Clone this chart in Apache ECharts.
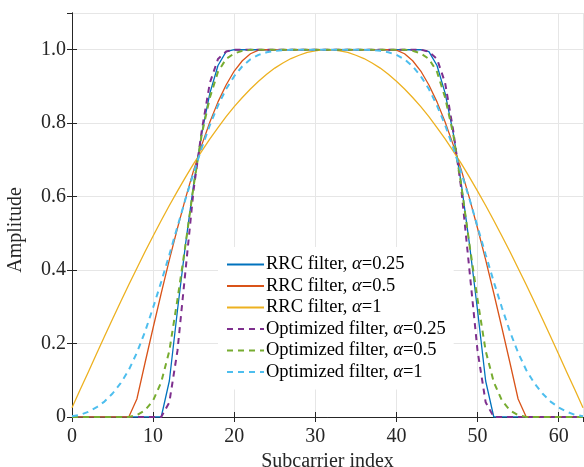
<!DOCTYPE html>
<html>
<head>
<meta charset="utf-8">
<script src="https://cdn.jsdelivr.net/npm/echarts@6/dist/echarts.min.js"></script>
<style>
  html, body { margin: 0; padding: 0; background: #fff; }
  #chart { width: 584px; height: 467px; }
</style>
</head>
<body>
<div id="chart"></div>
<script>
// subcarrier index 0..63
const subcarriers = Array.from({ length: 64 }, (_, i) => i);
const xTicks = [0, 10, 20, 30, 40, 50, 60];
const yTicks = [0, 0.2, 0.4, 0.6, 0.8, 1.0];

const rrc025 = [
  0, 0, 0, 0, 0, 0, 0, 0, 0, 0, 0, 0,
  0.098, 0.290, 0.471, 0.634, 0.773, 0.882, 0.957, 0.995,
  1, 1, 1, 1, 1, 1, 1, 1, 1, 1, 1, 1, 1, 1, 1, 1, 1, 1, 1, 1, 1, 1, 1, 1,
  0.995, 0.957, 0.882, 0.773, 0.634, 0.471, 0.290, 0.098,
  0, 0, 0, 0, 0, 0, 0, 0, 0, 0, 0, 0
];
const rrc05 = [
  0, 0, 0, 0, 0, 0, 0, 0,
  0.049, 0.147, 0.243, 0.337, 0.428, 0.514, 0.596, 0.672,
  0.741, 0.803, 0.858, 0.904, 0.942, 0.970, 0.989, 0.999,
  1, 1, 1, 1, 1, 1, 1, 1, 1, 1, 1, 1, 1, 1, 1, 1,
  0.999, 0.989, 0.970, 0.942, 0.904, 0.858, 0.803, 0.741,
  0.672, 0.596, 0.514, 0.428, 0.337, 0.243, 0.147, 0.049,
  0, 0, 0, 0, 0, 0, 0, 0
];
const rrc1 = [
  0.025, 0.074, 0.122, 0.171, 0.219, 0.267, 0.314, 0.360,
  0.405, 0.450, 0.493, 0.535, 0.576, 0.615, 0.653, 0.690,
  0.724, 0.757, 0.788, 0.818, 0.845, 0.870, 0.893, 0.914,
  0.933, 0.950, 0.964, 0.976, 0.985, 0.993, 0.997, 1.000,
  1.000, 0.997, 0.993, 0.985, 0.976, 0.964, 0.950, 0.933,
  0.914, 0.893, 0.870, 0.845, 0.818, 0.788, 0.757, 0.724,
  0.690, 0.653, 0.615, 0.576, 0.535, 0.493, 0.450, 0.405,
  0.360, 0.314, 0.267, 0.219, 0.171, 0.122, 0.074, 0.025
];
const opt025 = [
  0, 0, 0, 0, 0, 0, 0, 0, 0, 0, 0, 0,
  0.04, 0.18, 0.40, 0.62, 0.78, 0.91, 0.975, 0.995,
  1, 1, 1, 1, 1, 1, 1, 1, 1, 1, 1, 1, 1, 1, 1, 1, 1, 1, 1, 1, 1, 1, 1, 1,
  0.995, 0.975, 0.91, 0.78, 0.62, 0.40, 0.18, 0.04,
  0, 0, 0, 0, 0, 0, 0, 0, 0, 0, 0, 0
];
const opt05 = [
  0, 0, 0, 0, 0, 0, 0, 0,
  0.005, 0.018, 0.045, 0.095, 0.18, 0.32, 0.47, 0.63, 0.77, 0.87, 0.94, 0.975, 0.99, 0.997,
  1, 1, 1, 1, 1, 1, 1, 1, 1, 1, 1, 1, 1, 1, 1, 1, 1, 1, 1, 1,
  0.997, 0.99, 0.975, 0.94, 0.87, 0.77, 0.63, 0.47, 0.32, 0.18, 0.095, 0.045, 0.018, 0.005,
  0, 0, 0, 0, 0, 0, 0, 0
];
const opt1 = [
  0.002, 0.006, 0.014, 0.026, 0.042, 0.064, 0.092, 0.128, 0.175,
  0.232, 0.298, 0.368, 0.442, 0.518, 0.594, 0.665, 0.733, 0.795,
  0.848, 0.893, 0.928, 0.955, 0.974, 0.986, 0.993, 0.997, 0.999,
  1, 1, 1, 1, 1, 1, 1, 1, 1, 1,
  0.999, 0.997, 0.993, 0.986, 0.974, 0.955, 0.928, 0.893, 0.848,
  0.795, 0.733, 0.665, 0.594, 0.518, 0.442, 0.368, 0.298, 0.232,
  0.175, 0.128, 0.092, 0.064, 0.042, 0.026, 0.014, 0.006, 0.002
];

const serif = '"Liberation Serif", "DejaVu Serif", serif';
const axisColor = '#262626';

const pairs = arr => subcarriers.map((k, i) => [k, arr[i]]);

const mkSeries = (name, arr, color, dashed) => ({
  name: name,
  type: 'line',
  data: pairs(arr),
  symbol: 'none',
  showSymbol: false,
  color: color,
  lineStyle: dashed
    ? { color: color, width: 2, type: [6, 5] }
    : { color: color, width: 1.3 },
  z: dashed ? 3 : 2,
  animation: false
});

const chart = echarts.init(document.getElementById('chart'));

const option = {
  backgroundColor: '#fff',
  animation: false,
  grid: { left: 72, right: 1, top: 13, bottom: 50, containLabel: false, outerBoundsMode: 'none' },
  legend: {
    orient: 'vertical',
    left: 218,
    top: 247,
    padding: [8, 8, 8, 8],
    backgroundColor: '#fff',
    itemWidth: 37,
    itemHeight: 12,
    itemGap: 2.5,
    z: 10,
    itemStyle: { opacity: 0, borderWidth: 0 },
    formatter: name => name.replace('α', '{a|α}'),
    textStyle: {
      fontFamily: serif,
      fontSize: 18.5,
      lineHeight: 19,
      color: '#000',
      padding: [0, 0, 0, -3],
      rich: {
        a: { fontFamily: serif, fontSize: 18.5, fontStyle: 'italic', color: '#000' }
      }
    }
  },
  xAxis: [
    {
      type: 'value',
      min: 0,
      max: 63,
      interval: 10,
      name: 'Subcarrier index',
      nameLocation: 'middle',
      nameGap: 29,
      nameTextStyle: { fontFamily: serif, fontSize: 20, color: axisColor },
      axisLine: { show: true, onZero: false, lineStyle: { color: axisColor, width: 1 } },
      axisTick: { show: true, inside: true, length: 5, lineStyle: { color: axisColor } },
      axisLabel: {
        fontFamily: serif, fontSize: 20, color: axisColor, margin: 10,
        showMaxLabel: false,
        formatter: v => (xTicks.includes(v) ? String(v) : '')
      },
      splitLine: { show: true, lineStyle: { color: '#e6e6e6', width: 1 } }
    },
    {
      type: 'value',
      position: 'top',
      min: 0,
      max: 63,
      interval: 10,
      axisLine: { show: true, lineStyle: { color: axisColor, width: 1 } },
      axisTick: { show: true, inside: true, length: 5, lineStyle: { color: axisColor } },
      axisLabel: { show: false },
      splitLine: { show: false }
    }
  ],
  yAxis: [
    {
      type: 'value',
      min: 0,
      max: 1.1,
      interval: 0.2,
      name: 'Amplitude',
      nameLocation: 'middle',
      nameGap: 46,
      nameTextStyle: {
        fontFamily: serif, fontSize: 20, color: axisColor,
        padding: [0, 30, 0, 0]
      },
      axisLine: { show: true, onZero: false, lineStyle: { color: axisColor, width: 1 } },
      axisTick: { show: true, inside: true, length: 5, lineStyle: { color: axisColor } },
      axisLabel: {
        fontFamily: serif, fontSize: 20, color: axisColor, margin: 6,
        showMaxLabel: false,
        formatter: v => {
          const t = yTicks.find(y => Math.abs(y - v) < 1e-6);
          if (t === undefined) return '';
          return t === 0 ? '0' : t.toFixed(1);
        }
      },
      splitLine: { show: true, lineStyle: { color: '#e6e6e6', width: 1 } }
    },
    {
      type: 'value',
      position: 'right',
      min: 0,
      max: 1.1,
      interval: 0.2,
      axisLine: { show: true, lineStyle: { color: axisColor, width: 1 } },
      axisTick: { show: true, inside: true, length: 5, lineStyle: { color: axisColor } },
      axisLabel: { show: false },
      splitLine: { show: false }
    }
  ],
  series: [
    mkSeries('RRC filter, α=0.25', rrc025, '#0072BD', false),
    mkSeries('RRC filter, α=0.5', rrc05, '#D95319', false),
    mkSeries('RRC filter, α=1', rrc1, '#EDB120', false),
    mkSeries('Optimized filter, α=0.25', opt025, '#7E2F8E', true),
    mkSeries('Optimized filter, α=0.5', opt05, '#77AC30', true),
    mkSeries('Optimized filter, α=1', opt1, '#4DBEEE', true)
  ]
};

option && chart.setOption(option);
</script>
</body>
</html>
